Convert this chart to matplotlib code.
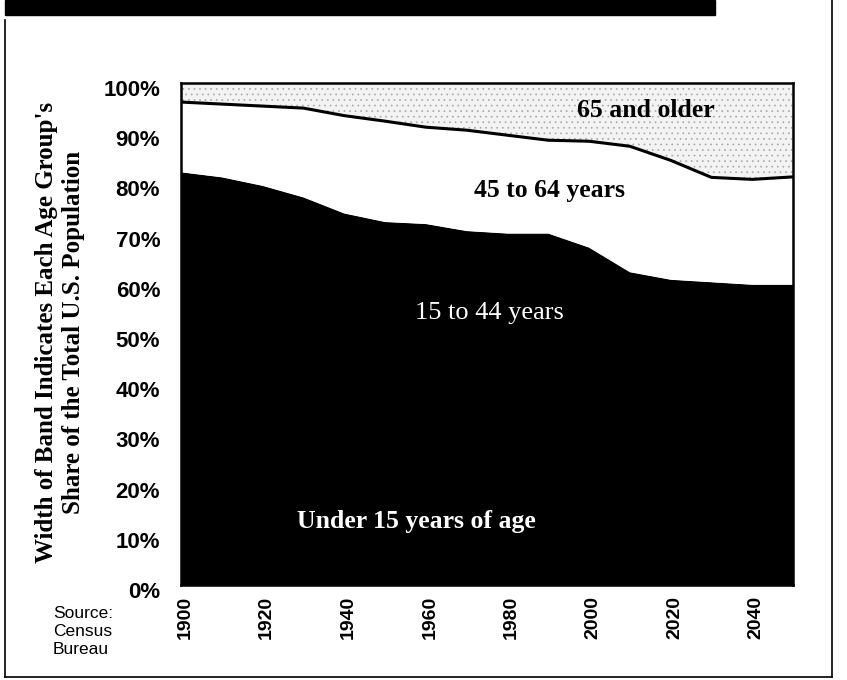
import numpy as np
import matplotlib
matplotlib.use("Agg")
import matplotlib.pyplot as plt
import matplotlib.transforms as mtransforms
from matplotlib.patches import Rectangle
from matplotlib.lines import Line2D

# shares of total US population (%)
years = [1900, 1910, 1920, 1930, 1940, 1950, 1960, 1970,
         1980, 1990, 2000, 2010, 2020, 2030, 2040, 2050]
under_15 = [34.4, 32.1, 31.8, 29.4, 25.0, 26.9, 31.1, 28.5,
            22.6, 21.5, 21.0, 20.0, 19.5, 19.0, 18.5, 18.5]
age_15_44 = [47.8, 49.1, 47.7, 47.8, 49.0, 45.4, 40.8, 42.0,
             47.4, 48.5, 46.2, 42.3, 41.3, 41.3, 41.3, 41.3]
age_45_64 = [14.0, 14.6, 15.9, 17.8, 19.5, 20.1, 19.3, 20.1,
             19.6, 18.6, 21.2, 25.1, 23.8, 20.9, 21.0, 21.5]
age_65_up = [3.8, 4.2, 4.6, 5.0, 6.5, 7.6, 8.8, 9.4,
             10.4, 11.4, 11.6, 12.6, 15.4, 18.8, 19.2, 18.7]

band_names = ["Under 15 years of age", "15 to 44 years", "45 to 64 years", "65 and older"]
xtick_years = [1900, 1920, 1940, 1960, 1980, 2000, 2020, 2040]
ytick_vals = [0, 10, 20, 30, 40, 50, 60, 70, 80, 90, 100]

W, H = 847, 680
plt.rcParams['hatch.linewidth'] = 0.5

fig = plt.figure(figsize=(W / 100, H / 100), dpi=100)
ax = fig.add_axes([181 / W, 1 - 585 / H, (793 - 181) / W, (585 - 83) / H])

polys = ax.stackplot(years, under_15, age_15_44, age_45_64, age_65_up,
                     colors=['black', 'black', 'white', '#f3f3f3'],
                     linewidth=0)
# both lower bands are black in the original, hide the seam between them
for p in polys[:2]:
    p.set_edgecolor('black')
    p.set_linewidth(1.0)
polys[3].set_hatch('...')
polys[3].set_edgecolor('#a8a8a8')

under_65 = np.cumsum([under_15, age_15_44, age_45_64], axis=0)[-1]
ax.plot(years, under_65, color='black', lw=2.2)

ax.set_xlim(1900, 2050)
ax.set_ylim(0, 100)

ax.set_xticks(xtick_years)
ax.set_xticklabels([str(y) for y in xtick_years], rotation=90,
                   fontfamily='Liberation Sans', fontweight='bold', fontsize=14)
ax.set_yticks(ytick_vals)
ax.set_yticklabels([f"{v}%" for v in ytick_vals],
                   fontfamily='Liberation Sans', fontweight='bold', fontsize=16)
ax.tick_params(axis='x', length=0, pad=8)
ax.tick_params(axis='y', length=0, pad=15)
for s in ax.spines.values():
    s.set_linewidth(1.8)

# the printed labels sit a few pixels off their ticks
shift_y = mtransforms.ScaledTranslation(0, -5 / 100, fig.dpi_scale_trans)
for lab in ax.get_yticklabels():
    lab.set_transform(lab.get_transform() + shift_y)
shift_x = mtransforms.ScaledTranslation(4 / 100, 0, fig.dpi_scale_trans)
for lab in ax.get_xticklabels():
    lab.set_transform(lab.get_transform() + shift_x)

serif = dict(fontfamily='Liberation Serif', fontweight='bold', fontsize=18.5, ha='center', va='center')
ax.text(2014, 94.6, band_names[3], color='black', **serif)
ax.text(1990.3, 78.6, band_names[2], color='black', **serif)
ax.text(1975.5, 54.2, band_names[1], color='white', fontfamily='Liberation Serif',
        fontsize=19, ha='center', va='center')
ax.text(1957.7, 12.6, band_names[0], color='white', **serif)

fig.text(60 / W, 1 - 332 / H,
         "Width of Band Indicates Each Age Group's\nShare of the Total U.S. Population",
         rotation=90, ha='center', va='center', fontfamily='Liberation Serif',
         fontweight='bold', fontsize=18, linespacing=1.25)

fig.text(53 / W, 1 - 632 / H, "Source:\nCensus\nBureau", ha='left', va='center',
         fontfamily='Liberation Sans', fontsize=12.5, linespacing=1.25)

# page frame and black bar at top
fig.add_artist(Rectangle((5 / W, 1 - 15 / H), 710 / W, 15 / H,
                         transform=fig.transFigure, color='black'))
fig.add_artist(Line2D([5 / W, 5 / W], [1 - 20 / H, 1 - 677 / H],
                      transform=fig.transFigure, color='black', lw=1.2))
fig.add_artist(Line2D([5 / W, 832 / W], [1 - 677 / H, 1 - 677 / H],
                      transform=fig.transFigure, color='black', lw=1.2))
fig.add_artist(Line2D([832 / W, 832 / W], [1 - 677 / H, 1.0],
                      transform=fig.transFigure, color='black', lw=1.2))

fig.savefig("out.png", dpi=100)
